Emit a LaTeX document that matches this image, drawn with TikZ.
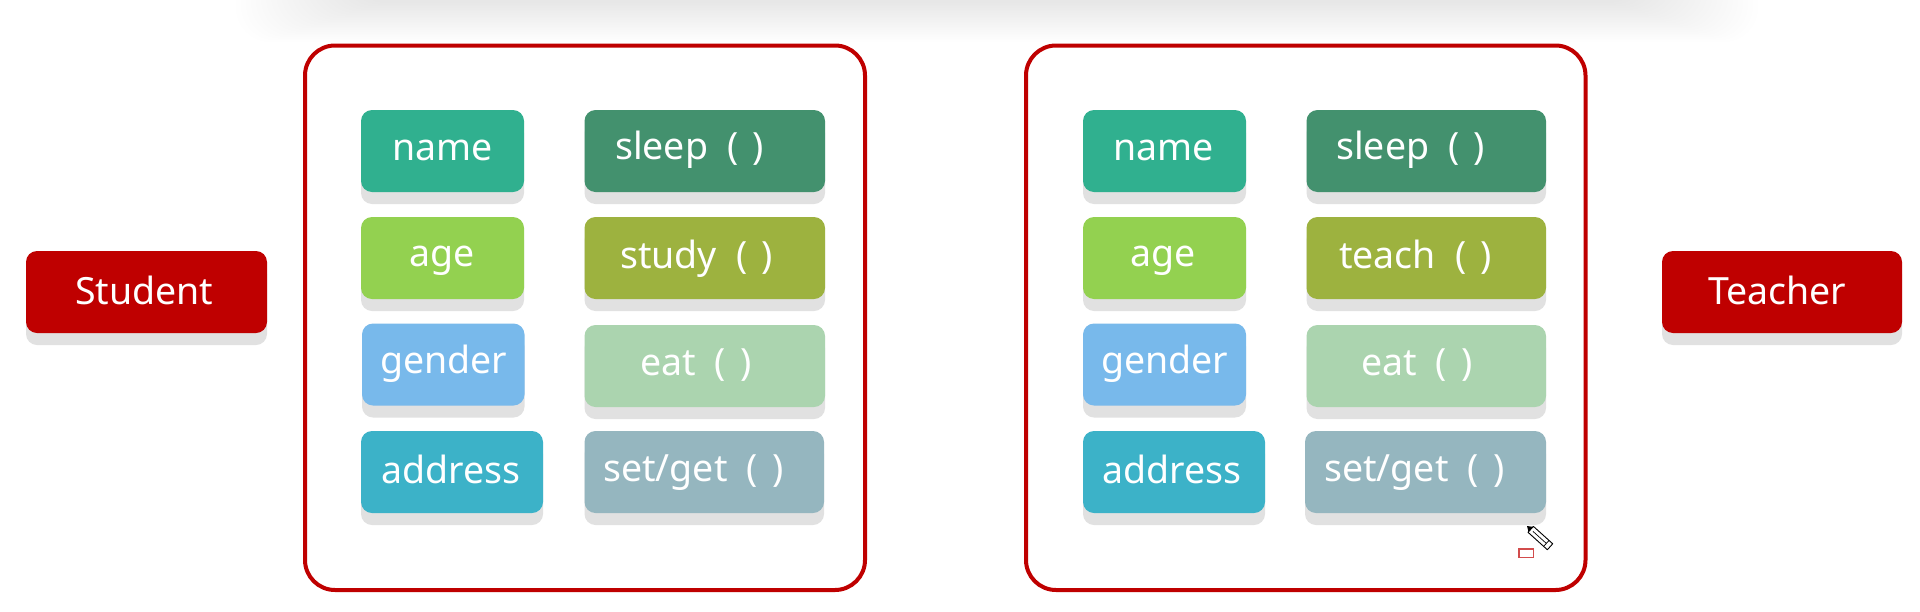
\documentclass[tikz,border=0pt]{standalone}
\usepackage{fontspec}
\setmainfont{Noto Sans}
\definecolor{redbox}{HTML}{BF0000}
\definecolor{shade}{HTML}{E1E1E1}
\definecolor{cname}{HTML}{30B08F}
\definecolor{csleep}{HTML}{43916E}
\definecolor{cage}{HTML}{93D150}
\definecolor{cstudy}{HTML}{9DB23F}
\definecolor{cgender}{HTML}{78B9EB}
\definecolor{ceat}{HTML}{ABD4AF}
\definecolor{caddress}{HTML}{3CB2C8}
\definecolor{cset}{HTML}{95B6BF}
\tikzset{
  cellbox/.style={fill=#1,draw=none,rounded corners=11pt},
  cellshade/.style={fill=shade,draw=none,rounded corners=11pt},
  celltext/.style={text=white,anchor=base west,inner sep=0pt,font=\fontsize{37.5}{37.5}\selectfont},
  bigbox/.style={draw=redbox,line width=4pt,fill=white,rounded corners=30pt},
}
\newcommand{\prn}{\hspace{19pt}(\hspace{14.5pt})}
% name, x0, y0, x1, y1, colour, text, text x, baseline y
\newcommand{\cellitem}[9]{%
  \fill[cellshade] (#2,#3+12) rectangle (#4,#5+12);
  \fill[cellbox=#6] (#2,#3) rectangle (#4,#5);
  \node[celltext] (#1) at (#8,#9) {#7};
}
\begin{document}
\begin{tikzpicture}[x=1pt,y=-1pt]
\useasboundingbox (0,0) rectangle (1920,611);
\fill[white] (0,0) rectangle (1920,611);
% soft band at the top
\begin{scope}
\clip (0,0) rectangle (1920,611);
\foreach \i in {0,...,23}{
  \fill[black,fill opacity=0.005,rounded corners=34pt]
    (236+\i*5,-80) rectangle (1758-\i*5,42-\i*1.7);
}
\end{scope}
% Student side
\draw[bigbox] (305,45.5) rectangle (865,590);
\cellitem{n1}{361}{110}{524}{192}{cname}{name}{392}{160}
\cellitem{a1}{361}{217}{524}{299}{cage}{age}{409}{266}
\cellitem{g1}{362}{323.5}{524.5}{405.5}{cgender}{gender}{380}{373}
\cellitem{d1}{361}{431}{543}{513}{caddress}{address}{381}{483}
\cellitem{s1}{584.5}{110}{825}{192}{csleep}{sleep\prn}{615}{159}
\cellitem{t1}{584.5}{217}{825}{299}{cstudy}{study\prn}{620}{268}
\cellitem{e1}{584.5}{325}{825}{407}{ceat}{eat\prn}{640}{375}
\cellitem{o1}{584.5}{431}{824}{513}{cset}{set/get\prn}{603}{481}
\cellitem{st}{26}{251}{267}{333}{redbox}{Student}{75}{304}
% Teacher side
\draw[bigbox] (1026,45.5) rectangle (1585.5,590);
\cellitem{n2}{1083}{110}{1246}{192}{cname}{name}{1113}{160}
\cellitem{a2}{1083}{217}{1246}{299}{cage}{age}{1130}{266}
\cellitem{g2}{1083}{323.5}{1246}{405.5}{cgender}{gender}{1101}{373}
\cellitem{d2}{1083}{431}{1265}{513}{caddress}{address}{1102}{483}
\cellitem{s2}{1306.5}{110}{1546}{192}{csleep}{sleep\prn}{1336}{159}
\cellitem{t2}{1306.5}{217}{1546}{299}{cstudy}{teach\prn}{1339}{268}
\cellitem{e2}{1306.5}{325}{1546}{407}{ceat}{eat\prn}{1361}{375}
\cellitem{o2}{1305}{431}{1546}{513}{cset}{set/get\prn}{1324}{481}
\cellitem{te}{1662}{251}{1902}{333}{redbox}{Teacher}{1708}{304}
% pencil cursor
\begin{scope}[shift={(1527,526)},rotate=-42]
\fill[black] (0,0) -- (6,-4) -- (6,4) -- cycle;
\draw[black,line width=0.9pt,fill=white,line join=round] (5,-4) -- (31,-4) -- (31,4) -- (5,4) -- cycle;
\draw[black,line width=0.7pt] (8,0) -- (26,0) (26,-4) -- (26,4);
\end{scope}
\draw[draw=redbox!70,line width=1.4pt,fill=white] (1519,549) rectangle (1533.5,557.5);
\end{tikzpicture}
\end{document}
